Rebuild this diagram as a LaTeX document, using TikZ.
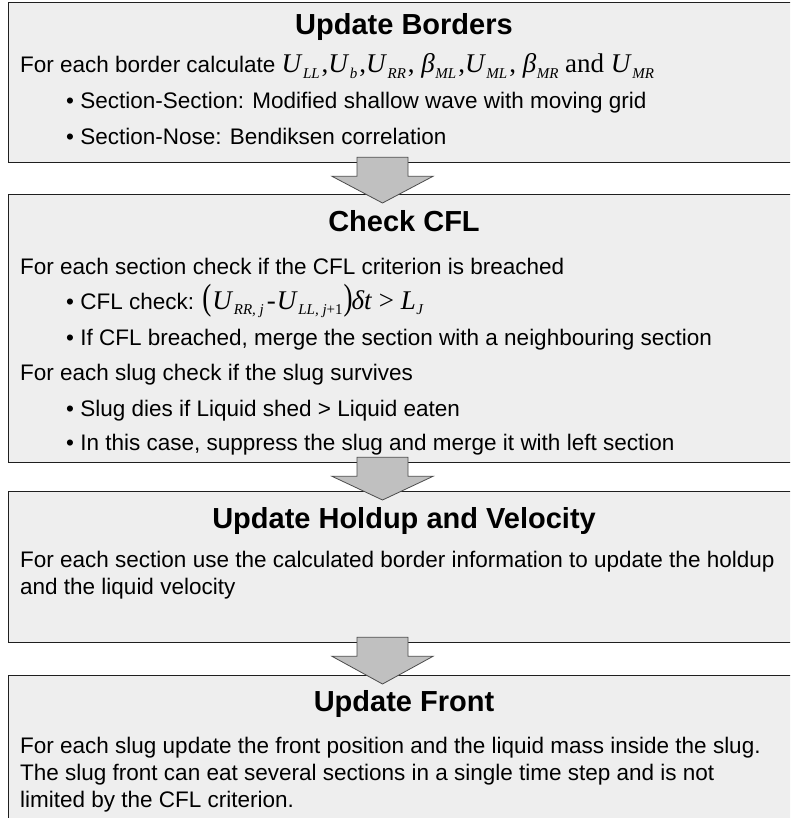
\documentclass[tikz,border=0pt]{standalone}
\usepackage{fontspec}
\setmainfont{Liberation Sans}
\newfontfamily\tmr{Liberation Serif}
\usetikzlibrary{calc}
\newcommand\fm{\fontsize{27}{30}\selectfont\tmr}
\newcommand\msb[1]{\raisebox{-5.5pt}{\fontsize{15}{15}\selectfont\tmr\itshape #1}}
\newcommand\mv[2]{\textit{#1}\kern0.5pt\msb{#2}}
\newcommand\blockarrow[2]{\draw[blockarr] let \p1=(#1.south), \p2=(#2.north) in
  (357pt,\y1+6pt) -- (408pt,\y1+6pt) -- (408pt,\y1-13pt) -- (433pt,\y1-13pt) --
  (382.5pt,\y2-9pt) -- (332pt,\y1-13pt) -- (357pt,\y1-13pt) -- cycle;}
\begin{document}
\begin{tikzpicture}[x=1pt,y=1pt,
  box/.style={draw=black!88, line width=1.3pt, fill={rgb,255:red,238;green,238;blue,238},
    anchor=north west, inner sep=0pt, minimum width=792pt},
  txt/.style={anchor=base west, inner sep=0pt, font=\fontsize{22.5}{27}\selectfont},
  ttl/.style={anchor=base, inner sep=0pt, font=\fontsize{29}{33}\selectfont\bfseries},
  blockarr/.style={draw=black!70, line width=0.8pt, fill={rgb,255:red,192;green,192;blue,192}, line join=miter}]
\useasboundingbox (0,0) rectangle (790,-818);
\clip (0,0) rectangle (790,-818);
\fill[white] (0,0) rectangle (790,-818);
% boxes
\node[box, minimum height=160pt] (b1) at (8,-2) {};
\node[box, minimum height=268pt] (b2) at (8,-194) {};
\node[box, minimum height=151pt] (b3) at (8,-491) {};
\node[box, minimum height=170pt] (b4) at (8,-675) {};
% arrows
\blockarrow{b1}{b2}
\blockarrow{b2}{b3}
\blockarrow{b3}{b4}
% box 1
\node[ttl] (t1) at (404,-35) {Update Borders};
\node[txt] (l11) at (20,-73) {For each border calculate {\fm \mv{U}{LL}\kern2pt,\mv{U}{b}\kern2pt,\mv{U}{RR}\kern2pt, \mv{β}{ML}\kern2pt,\mv{U}{ML}\kern2pt, \mv{β}{MR} and \mv{U}{MR}}};
\node[txt] (l12) at (66,-109) {• Section-Section: Modified shallow wave with moving grid};
\node[txt] (l13) at (66,-145) {• Section-Nose: Bendiksen correlation};
% box 2
\node[ttl] (t2) at (404,-231) {Check CFL};
\node[txt] (l21) at (20,-274) {For each section check if the CFL criterion is breached};
\node[txt] (l22) at (66,-309) {• CFL check: {\fm\scalebox{1}[1.35]{(}\kern1pt\mv{U}{RR, j}\kern3pt-\kern1pt\mv{U}{LL, j{\upshape+1}}\kern1pt\scalebox{1}[1.35]{)}\kern-1pt\textit{δt} > \mv{L}{J}}};
\node[txt] (l23) at (66,-345) {• If CFL breached, merge the section with a neighbouring section};
\node[txt] (l24) at (20,-380) {For each slug check if the slug survives};
\node[txt] (l25) at (66,-416) {• Slug dies if Liquid shed > Liquid eaten};
\node[txt] (l26) at (66,-450) {• In this case, suppress the slug and merge it with left section};
% box 3
\node[ttl] (t3) at (404,-528) {Update Holdup and Velocity};
\node[txt] (l31) at (20,-567) {For each section use the calculated border information to update the holdup};
\node[txt] (l32) at (20,-594) {and the liquid velocity};
% box 4
\node[ttl] (t4) at (404,-711) {Update Front};
\node[txt] (l41) at (20,-753) {For each slug update the front position and the liquid mass inside the slug.};
\node[txt] (l42) at (20,-780) {The slug front can eat several sections in a single time step and is not};
\node[txt] (l43) at (20,-807) {limited by the CFL criterion.};
\end{tikzpicture}
\end{document}
